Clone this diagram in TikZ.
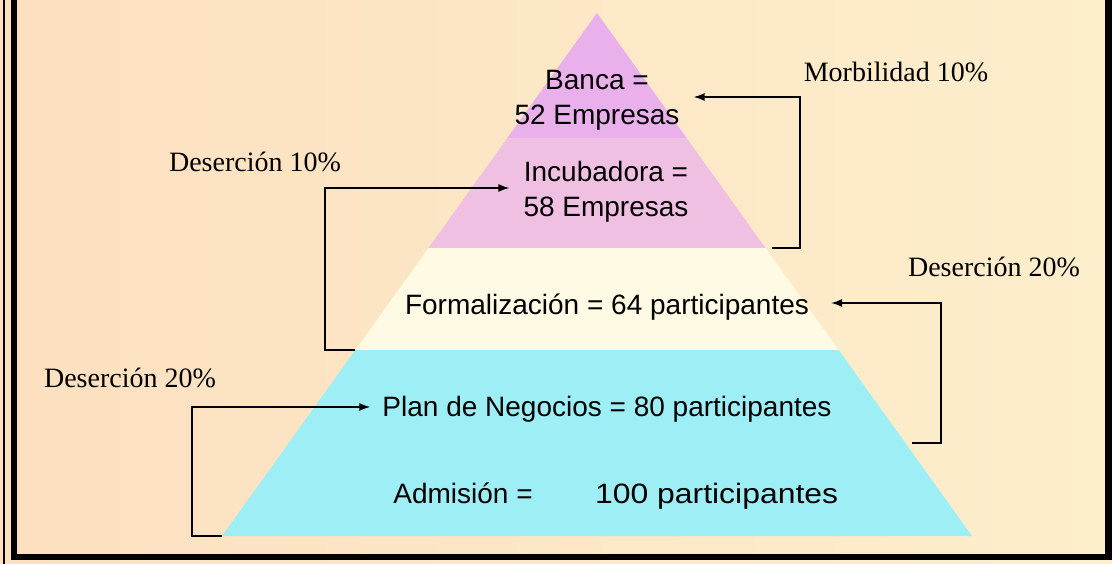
\documentclass[tikz,border=0pt]{standalone}
\usepackage{fontspec}
\setmainfont{Liberation Serif}
\setsansfont{Liberation Sans}
\definecolor{PaperPeach} {RGB}{252,224,192}
\definecolor{PaperCream} {RGB}{253,238,204}
\definecolor{TopViolet}  {RGB}{234,176,236}
\definecolor{TopPink}    {RGB}{240,192,226}
\definecolor{MidCream}   {RGB}{255,250,228}
\definecolor{BaseCyan}   {RGB}{158,238,246}
\usetikzlibrary{arrows.meta,positioning}

\begin{document}
\begin{tikzpicture}[x=1pt,y=-1pt,
  tier/.style={font=\sffamily\fontsize{28}{35}\selectfont,align=center,inner sep=2pt},
  note/.style={font=\rmfamily\fontsize{28}{34}\selectfont,inner sep=0pt},
  flow/.style={-{Latex[length=11pt,width=8pt]},line width=1.4pt,black}]
  \useasboundingbox (0,0) rectangle (1112,564);
  % paper and pyramid
  \shade[left color=PaperPeach,right color=PaperCream] (0,0) rectangle (1112,564);
  \begin{scope}
    \clip (597,13) -- (972,536) -- (222,536) -- cycle;
    \fill[TopViolet] (200,0)   rectangle (1000,138);
    \fill[TopPink]   (200,138) rectangle (1000,248);
    \fill[MidCream]  (200,248) rectangle (1000,350);
    \fill[BaseCyan]  (200,350) rectangle (1000,540);
  \end{scope}
  % tiers
  \node[tier](banca)  at (597,100) {Banca =\\52 Empresas};
  \node[tier](incub)  at (606,192) {Incubadora =\\58 Empresas};
  \node[tier](formal) at (607,307) {Formalizaci\'on = 64 participantes};
  \node[tier](plan)   at (607,409) {Plan de Negocios = 80 participantes};
  \node[tier](adm)    at (463,493) {Admisi\'on =};
  \node[tier,base right=58pt of adm](cien) {\scalebox{1.14}[1]{100 participantes}};
  % drop-out notes
  \node[note](morb) at (896,72)  {Morbilidad 10\%};
  \node[note](des1) at (255,162) {Deserci\'on 10\%};
  \node[note](des2) at (994,267) {Deserci\'on 20\%};
  \node[note](des3) at (130,378) {Deserci\'on 20\%};
  \coordinate (m0) at (772,248);
  \coordinate (d1) at (355,350);
  \coordinate (d2) at (912,443);
  \coordinate (d3) at (222,536);
  \draw[flow](m0) -- ++(28,0) |- ([xshift=12pt,yshift=3pt]banca.east);
  \draw[flow](d1) -- ++(-30,0) |- ([xshift=-12pt,yshift=4pt]incub.west);
  \draw[flow](d2) -- ++(29,0) |- ([xshift=20pt,yshift=4pt]formal.east);
  \draw[flow](d3) -- ++(-30,0) |- ([xshift=-10pt,yshift=2pt]plan.west);
  % frame
  \draw[line width=2pt] (4,0) -- (4,564);
  \draw[line width=6pt] (14,0) -- (14,560);
  \draw[line width=6pt] (11,557) -- (1112,557);
  \draw[line width=7pt] (1108.5,0) -- (1108.5,560);
\end{tikzpicture}
\end{document}
